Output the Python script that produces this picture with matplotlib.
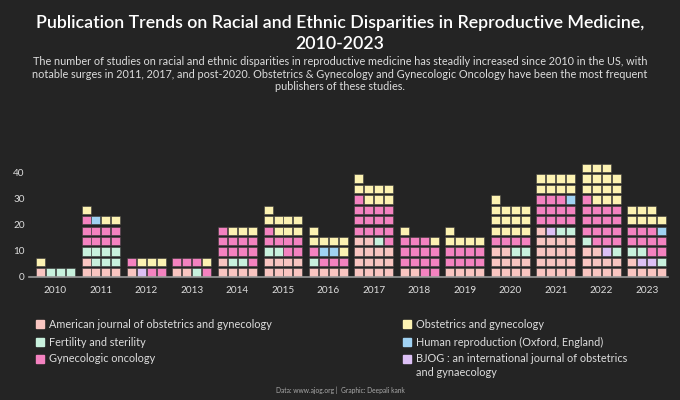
import numpy as np
import matplotlib.pyplot as plt

plt.rcParams['font.family'] = ['Lato', 'DejaVu Sans']

# publications per journal and year (one square = one study)
years = [2010, 2011, 2012, 2013, 2014, 2015, 2016, 2017, 2018, 2019, 2020, 2021, 2022, 2023]
journals = ['American journal of obstetrics and gynecology',
            'BJOG : an international journal of obstetrics\nand gynaecology',
            'Fertility and sterility',
            'Gynecologic oncology',
            'Human reproduction (Oxford, England)',
            'Obstetrics and gynecology']
ajog = [1, 5, 1, 2, 5, 8, 4, 14, 2, 4, 10, 17, 10, 5]
bjog = [0, 0, 1, 0, 0, 0, 0, 0, 0, 0, 0, 1, 1, 2]
fert = [3, 7, 0, 1, 2, 2, 1, 1, 0, 0, 2, 2, 2, 3]
gynonc = [0, 9, 3, 4, 10, 7, 4, 14, 13, 8, 4, 11, 16, 9]
humrep = [0, 1, 0, 0, 0, 0, 2, 0, 0, 0, 0, 1, 0, 1]
obgyn = [1, 3, 3, 1, 3, 8, 6, 8, 2, 5, 13, 8, 14, 7]
counts = [ajog, bjog, fert, gynonc, humrep, obgyn]
colors = ['#f9c5c1', '#dcc0f5', '#c8f1dd', '#f482c0', '#a0d2f3', '#fcf2b2']

bg = '#242424'
ncol = 4          # squares per row
row_step = 4      # each row holds 4 studies
gpitch = 4.55     # distance between year groups (in columns)

fig = plt.figure(figsize=(6.8, 4), dpi=100, facecolor=bg)
ax = fig.add_axes([29/680, 1 - 276.7/400, 639/680, 116.7/400], facecolor=bg)

for g, yr in enumerate(years):
    seq = []
    for j in range(len(journals)):
        seq += [j]*counts[j][g]
    for k, j in enumerate(seq):
        r, c = divmod(k, ncol)
        ax.bar(g*gpitch + c, 3.2, bottom=r*row_step, width=0.9, align='edge',
               color=colors[j], edgecolor='#3a3a3a', linewidth=0.4)

ax.set_xlim(-0.7, 63.2)
ax.set_ylim(0, 44.7)
ax.set_yticks([0, 10, 20, 30, 40])
ax.set_xticks([g*gpitch + 1.95 for g in range(len(years))])
ax.set_xticklabels([str(y) for y in years])
ax.tick_params(length=0, colors='#dddddd', labelsize=7.2)
ax.tick_params(axis='x', pad=7)
ax.tick_params(axis='y', pad=3)
for s in ['top', 'right', 'left']:
    ax.spines[s].set_visible(False)
ax.spines['bottom'].set_color('#999999')
ax.spines['bottom'].set_linewidth(1.2)

fig.text(0.5, 1 - 23/400, 'Publication Trends on Racial and Ethnic Disparities in Reproductive Medicine,',
         ha='center', va='center', color='white', fontsize=12.8, fontweight='semibold')
fig.text(0.5, 1 - 44/400, '2010-2023', ha='center', va='center', color='white',
         fontsize=12.8, fontweight='semibold')
sub = ('The number of studies on racial and ethnic disparities in reproductive medicine has steadily increased since 2010 in the US, with\n'
       'notable surges in 2011, 2017, and post-2020. Obstetrics & Gynecology and Gynecologic Oncology have been the most frequent\n'
       'publishers of these studies.')
fig.text(0.5, 1 - 74/400, sub, ha='center', va='center', color='#dddddd',
         fontsize=7.8, linespacing=1.22)

# legend, two columns
left_items = [0, 2, 3]
right_items = [5, 4, 1]
ys = [324, 342, 359]
for col_x, items in [(36, left_items), (403, right_items)]:
    for yy, j in zip(ys, items):
        fig.patches.append(plt.Rectangle((col_x/680, 1 - (yy + 4)/400), 8/680, 8/400,
                                         transform=fig.transFigure, color=colors[j]))
        fig.text((col_x + 13)/680, 1 - yy/400, journals[j], ha='left',
                 va='top' if '\n' in journals[j] else 'center',
                 color='#dddddd', fontsize=7.8, linespacing=1.35)
# fix the wrapped BJOG label position
fig.texts[-1].set_position(((403 + 13)/680, 1 - 353/400))

fig.text(0.5, 1 - 390/400, 'Data: www.ajog.org |  Graphic: Deepali kank', ha='center',
         va='center', color='#aaaaaa', fontsize=4.8)

plt.savefig('out.png', dpi=100, facecolor=bg)
